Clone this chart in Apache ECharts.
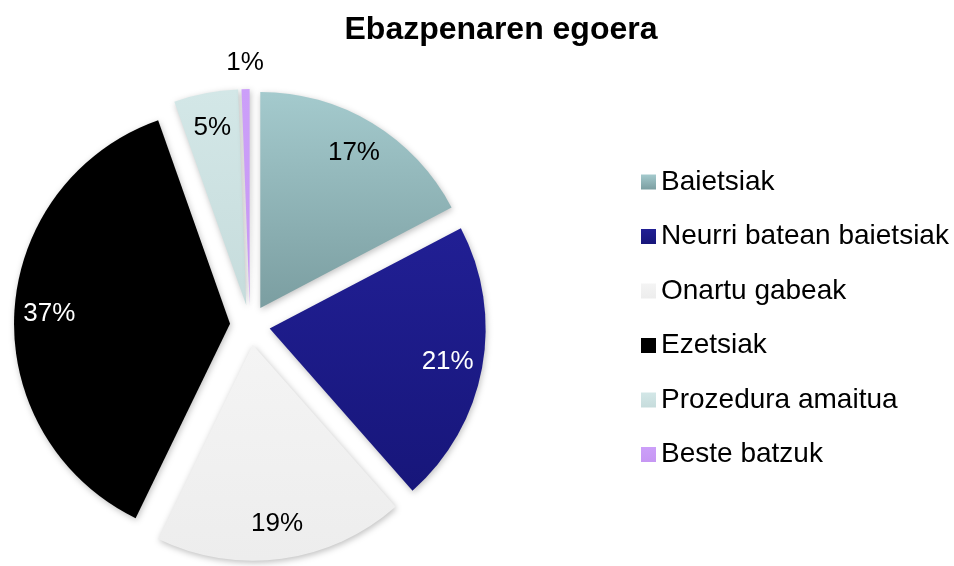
<!DOCTYPE html>
<html>
<head>
<meta charset="utf-8">
<script src="https://cdn.jsdelivr.net/npm/echarts@6/dist/echarts.min.js"></script>
<style>
html,body{margin:0;padding:0;background:#fff;}
#chart{width:954px;height:566px;}
</style>
</head>
<body>
<div id="chart"></div>
<script>
const titleText = 'Ebazpenaren egoera';
const categories = ['Baietsiak', 'Neurri batean baietsiak', 'Onartu gabeak', 'Ezetsiak', 'Prozedura amaitua', 'Beste batzuk'];
const values = [17.3, 21.2, 18.7, 37.4, 4.8, 0.6];
const colorTop = ['#a4cacd', '#211f94', '#f4f4f4', '#000000', '#d3e7e7', '#cc9ff9'];
const colorBottom = ['#7b9ea1', '#17167a', '#ededed', '#000000', '#c6dcdc', '#c697f3'];
const labelColors = ['#000000', '#ffffff', '#000000', '#ffffff', '#000000', '#000000'];
const outerLabelItems = ['Beste batzuk'];

const FONT = '"Liberation Sans", Arial, sans-serif';
const CENTER = [250, 325];
const OFFSET = 20;

function grad(i) {
  return new echarts.graphic.LinearGradient(0, 0, 0, 1, [
    {offset: 0, color: colorTop[i]},
    {offset: 1, color: colorBottom[i]}
  ]);
}
const fmt = p => Math.round(p.percent) + '%';

const mainData = categories.map((name, i) => ({
  name, value: values[i], selected: true,
  itemStyle: {color: grad(i)}
}));
const innerLabelData = categories.map((name, i) => ({
  name, value: values[i], selected: true,
  label: {show: outerLabelItems.indexOf(name) < 0, color: labelColors[i]}
}));
const outerLabelData = categories.map((name, i) => ({
  name, value: values[i], selected: true,
  label: {show: outerLabelItems.indexOf(name) >= 0, color: labelColors[i]}
}));

const chart = echarts.init(document.getElementById('chart'), null, {renderer: 'canvas'});
chart.setOption({
  animation: false,
  backgroundColor: '#ffffff',
  title: {
    text: titleText, left: 496, top: 9, textAlign: 'center',
    textStyle: {fontFamily: FONT, fontSize: 32, fontWeight: 'bold', color: '#000'}
  },
  legend: {
    orient: 'vertical', left: 636, top: 163,
    itemWidth: 15, itemHeight: 15, itemGap: 26.5,
    icon: 'rect', selectedMode: false,
    data: categories,
    textStyle: {fontFamily: FONT, fontSize: 28, color: '#000'}
  },
  series: [
    {
      type: 'pie', center: CENTER, radius: 216, startAngle: 90, clockwise: true,
      selectedMode: 'multiple', selectedOffset: OFFSET, avoidLabelOverlap: false,
      label: {show: false}, labelLine: {show: false},
      itemStyle: {shadowBlur: 6, shadowColor: 'rgba(0,0,0,0.25)', shadowOffsetX: 1, shadowOffsetY: 2},
      emphasis: {disabled: true},
      select: {itemStyle: {borderWidth: 0}},
      data: mainData
    },
    {
      type: 'pie', center: CENTER, radius: [140, 216], startAngle: 90, clockwise: true,
      selectedMode: 'multiple', selectedOffset: OFFSET, avoidLabelOverlap: false, silent: true,
      itemStyle: {color: 'rgba(0,0,0,0)'},
      label: {position: 'inside', formatter: fmt, fontFamily: FONT, fontSize: 26},
      labelLine: {show: false},
      emphasis: {disabled: true},
      select: {itemStyle: {borderWidth: 0, color: 'rgba(0,0,0,0)'}},
      data: innerLabelData
    },
    {
      type: 'pie', center: CENTER, radius: [216, 262], startAngle: 90, clockwise: true,
      selectedMode: 'multiple', selectedOffset: OFFSET, avoidLabelOverlap: false, silent: true,
      itemStyle: {color: 'rgba(0,0,0,0)'},
      label: {position: 'inside', formatter: fmt, fontFamily: FONT, fontSize: 26},
      labelLine: {show: false},
      emphasis: {disabled: true},
      select: {itemStyle: {borderWidth: 0, color: 'rgba(0,0,0,0)'}},
      data: outerLabelData
    }
  ]
});
</script>
</body>
</html>
